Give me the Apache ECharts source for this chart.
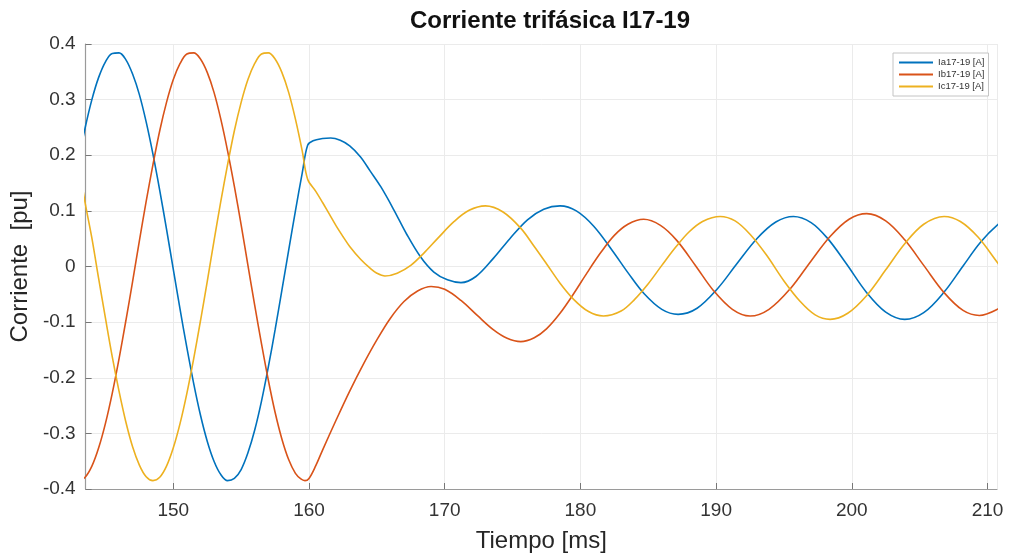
<!DOCTYPE html>
<html>
<head>
<meta charset="utf-8">
<script src="https://cdn.jsdelivr.net/npm/echarts@6/dist/echarts.min.js"></script>
<style>
  html, body { margin: 0; padding: 0; background: #fff; }
  #chart { width: 1010px; height: 558px; }
</style>
</head>
<body>
<div id="chart"></div>
<script>
// Three-phase current on line 17-19, per unit, versus time in ms

const seriesNames = ['Ia17-19 [A]', 'Ib17-19 [A]', 'Ic17-19 [A]'];

// Phase a
const tA = [143, 143.5, 144, 144.5, 145, 145.5, 146, 146.5, 147, 147.5, 148, 148.5, 149, 149.5, 150, 150.5,
  151, 151.5, 152, 152.5, 153, 153.5, 154, 154.5, 155, 155.5, 156, 156.5, 157, 157.5, 158, 158.5, 159, 159.5, 159.9,
  160.3, 161.0, 161.6, 162.3, 163.0, 163.8, 164.5, 165.3, 166.25, 167.2, 168.2, 169.2, 170.2, 171.2, 172.3,
  173.6, 174.8, 176.1, 177.3, 178.5, 179.7, 181.0, 182.4, 183.5, 184.7, 186.0, 187.2, 188.6, 190.1, 191.5,
  193.0, 194.4, 195.7, 197.0, 198.2, 199.6, 201.1, 202.5, 203.9, 205.3, 206.8, 208.2, 209.5, 210.8, 211.5];
const iA = [0.190, 0.249, 0.300, 0.340, 0.368, 0.383, 0.384, 0.372, 0.346, 0.309, 0.260, 0.202, 0.137, 0.067,
  -0.005, -0.077, -0.146, -0.210, -0.267, -0.314, -0.350, -0.374, -0.385, -0.381, -0.365, -0.335, -0.294, -0.242,
  -0.181, -0.114, -0.043, 0.029, 0.100, 0.168, 0.218,
  0.226, 0.230, 0.231, 0.227, 0.217, 0.197, 0.172, 0.143, 0.102, 0.058, 0.018, -0.010, -0.024, -0.029, -0.018,
  0.015, 0.050, 0.084, 0.103, 0.109, 0.100, 0.072, 0.027, -0.011, -0.049, -0.077, -0.086, -0.075, -0.040, 0.004,
  0.050, 0.080, 0.090, 0.079, 0.051, 0.005, -0.047, -0.082, -0.095, -0.083, -0.046, 0.001, 0.044, 0.076, 0.086];

// Phase b
const tB = [143, 143.5, 144, 144.5, 145, 145.5, 146, 146.5, 147, 147.5, 148, 148.5, 149, 149.5, 150, 150.5,
  151, 151.5, 152, 152.5, 153, 153.5, 154, 154.5, 155, 155.5, 156, 156.5, 157, 157.5, 158, 158.5, 159, 159.4,
  159.7, 160.0,
  160.5, 161, 162, 163, 164, 165, 166, 167, 168, 169, 170, 171.2, 172.4, 173.6, 174.6, 175.6, 176.6, 177.5,
  178.5, 179.5, 180.5, 181.5, 182.5, 183.5, 184.66, 185.9, 187.1, 188.5, 189.8, 191.2, 192.5, 193.9, 195.5,
  197.0, 198.4, 199.8, 201.1, 202.5, 203.9, 205.3, 206.8, 208.2, 209.4, 210.8, 211.5];
const iB = [-0.385, -0.379, -0.359, -0.326, -0.282, -0.228, -0.166, -0.098, -0.027, 0.046, 0.117, 0.183, 0.244,
  0.295, 0.336, 0.365, 0.382, 0.384, 0.373, 0.349, 0.313, 0.265, 0.208, 0.144, 0.075, 0.002, -0.070, -0.139,
  -0.204, -0.262, -0.310, -0.347, -0.372, -0.382,
  -0.385, -0.381,
  -0.358, -0.330, -0.276, -0.224, -0.176, -0.132, -0.093, -0.063, -0.044, -0.036, -0.041, -0.061, -0.088, -0.114,
  -0.129, -0.135, -0.128, -0.112, -0.084, -0.049, -0.011, 0.025, 0.056, 0.076, 0.085, 0.074, 0.047, 0.001, -0.043,
  -0.077, -0.089, -0.077, -0.039, 0.010, 0.054, 0.085, 0.095, 0.082, 0.048, 0.002, -0.047, -0.079, -0.088,
  -0.076, -0.062];

// Phase c
const tC = [143, 143.5, 144, 144.5, 145, 145.5, 146, 146.5, 147, 147.5, 148, 148.5, 149, 149.5, 150, 150.5,
  151, 151.5, 152, 152.5, 153, 153.5, 154, 154.5, 155, 155.5, 156, 156.5, 157, 157.5, 158, 158.5, 159, 159.5,
  159.9, 160.5, 161, 161.5, 162, 162.5, 163, 163.8, 164.5, 165.0, 165.6, 166.5, 167.5, 168.5, 169.5, 170.7,
  171.8, 173.0, 174.3, 175.6, 176.6, 177.5, 178.5, 179.5, 180.6, 181.7, 183, 184, 185, 186, 187, 188, 189,
  190.3, 191.4, 192.5, 193.7, 195.0, 196.2, 197.3, 198.4, 199.7, 201.1, 202.5, 203.9, 205.3, 206.8, 208.0,
  209.3, 210.7, 211.5];
const iC = [0.188, 0.115, 0.051, -0.022, -0.093, -0.162, -0.224, -0.279, -0.324, -0.357, -0.378, -0.385, -0.379,
  -0.359, -0.326, -0.282, -0.228, -0.166, -0.098, -0.027, 0.046, 0.117, 0.183, 0.244, 0.295, 0.336, 0.365, 0.382,
  0.384, 0.373, 0.349, 0.313, 0.265, 0.208,
  0.157, 0.135, 0.115, 0.094, 0.073, 0.054, 0.036, 0.013, -0.003, -0.012, -0.017, -0.012, 0.002, 0.025, 0.051,
  0.081, 0.101, 0.109, 0.098, 0.069, 0.036, 0.005, -0.030, -0.059, -0.081, -0.089, -0.080, -0.059, -0.031,
  0.002, 0.034, 0.062, 0.081, 0.090, 0.082, 0.058, 0.021, -0.026, -0.063, -0.087, -0.095, -0.084, -0.052,
  -0.006, 0.041, 0.076, 0.090, 0.081, 0.053, 0.008, -0.019];

const colors = ['#0072BD', '#D95319', '#EDB120'];

const zip = (t, v) => t.map((x, i) => [x, v[i]]);
const seriesData = [zip(tA, iA), zip(tB, iB), zip(tC, iC)];

const font = "'Liberation Sans', Arial, Helvetica, sans-serif";
const axisLineColor = '#9a9a9a';
const gridColor = '#ebebeb';

const chart = echarts.init(document.getElementById('chart'), null, { renderer: 'canvas' });

chart.setOption({
  animation: false,
  backgroundColor: '#ffffff',
  textStyle: { fontFamily: font },
  title: {
    text: 'Corriente trifásica I17-19',
    left: 545,
    textAlign: 'center',
    top: 4,
    textStyle: { fontFamily: font, fontSize: 24, fontWeight: 'bold', color: '#111' }
  },
  grid: { left: 85, right: 13, top: 44, bottom: 66 },
  legend: {
    orient: 'vertical',
    left: 893,
    top: 53,
    icon: 'rect',
    itemWidth: 34,
    itemHeight: 2,
    itemGap: 1,
    padding: [4, 4, 4, 6],
    borderColor: '#c4c4c4',
    borderWidth: 1,
    backgroundColor: '#ffffff',
    textStyle: { fontFamily: font, fontSize: 9.5, color: '#333', lineHeight: 11 },
    data: seriesNames
  },
  xAxis: {
    type: 'value',
    min: 143.54,
    max: 210.7,
    minInterval: 10,
    maxInterval: 10,
    name: 'Tiempo [ms]',
    nameLocation: 'middle',
    nameGap: 40,
    nameTextStyle: { fontFamily: font, fontSize: 24, color: '#262626' },
    axisLine: { show: true, onZero: false, lineStyle: { color: axisLineColor, width: 1.2 } },
    axisTick: { show: true, inside: true, length: 6, lineStyle: { color: '#777' } },
    axisLabel: { fontFamily: font, fontSize: 19, color: '#333', margin: 12, showMinLabel: false, showMaxLabel: false },
    splitLine: { show: true, lineStyle: { color: gridColor, width: 1 } }
  },
  yAxis: {
    type: 'value',
    min: -0.4,
    max: 0.4,
    interval: 0.1,
    name: 'Corriente  [pu]',
    nameLocation: 'middle',
    nameGap: 40,
    nameTextStyle: { fontFamily: font, fontSize: 24, color: '#262626' },
    axisLine: { show: true, lineStyle: { color: axisLineColor, width: 1.2 } },
    axisTick: { show: true, inside: true, length: 6, lineStyle: { color: '#777' } },
    axisLabel: {
      fontFamily: font, fontSize: 19, color: '#333', margin: 10,
      formatter: v => String(Math.round(v * 10) / 10)
    },
    splitLine: { show: true, lineStyle: { color: gridColor, width: 1 } }
  },
  series: seriesNames.map((name, i) => ({
    name,
    type: 'line',
    data: seriesData[i],
    smooth: 0.35,
    showSymbol: false,
    symbol: 'none',
    clip: true,
    color: colors[i],
    lineStyle: { color: colors[i], width: 1.6 }
  }))
});
</script>
</body>
</html>
